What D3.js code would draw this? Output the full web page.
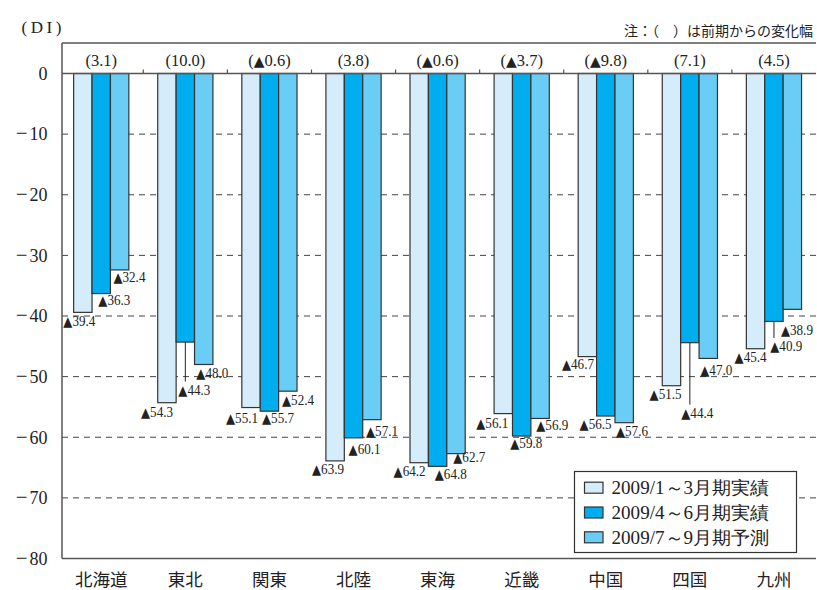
<!DOCTYPE html>
<html><head><meta charset="utf-8">
<script src="https://cdn.jsdelivr.net/npm/d3@7"></script>
<style>
html,body{margin:0;padding:0;background:#fff;}
svg{display:block;}
.serif{font-family:"Liberation Serif","Times New Roman","DejaVu Serif",serif;}
.cjk{font-family:"Noto Sans CJK JP","Noto Sans CJK SC",sans-serif;}
.tri{font-family:"DejaVu Sans",sans-serif;}
</style></head>
<body>
<svg id="chart" width="817" height="590"></svg>
<script>
// ---- data ----
const regions = ['北海道','東北','関東','北陸','東海','近畿','中国','四国','九州'];
const seriesNames = ['2009/1～3月期実績','2009/4～6月期実績','2009/7～9月期予測'];
const q1Actual = [-39.4,-54.3,-55.1,-63.9,-64.2,-56.1,-46.7,-51.5,-45.4];
const q2Actual = [-36.3,-44.3,-55.7,-60.1,-64.8,-59.8,-56.5,-44.4,-40.9];
const q3Forecast = [-32.4,-48.0,-52.4,-57.1,-62.7,-56.9,-57.6,-47.0,-38.9];
const changes = [3.1,10.0,-0.6,3.8,-0.6,-3.7,-9.8,7.1,4.5];
const yTicks = [0,-10,-20,-30,-40,-50,-60,-70,-80];

// ---- layout (label nudges, not data) ----
const labelDx = [
  [-10.3,-16.7,-15.8,-13.9,-16.4,-17.8,-16.2,-12.7,-11.8],
  [6.3,2.2,1.8,4.3,6.4,-2.2,-17,0.6,5.5],
  [3,1.8,3.4,3.3,6.5,5.4,1,1.2,-2.2]
];
const labelDy = [
  [8.7,9.1,10.3,7.5,8.1,9.2,7.5,7.7,8.1],
  [6.5,47.5,6.7,10.6,7,6.5,8.1,70,24.6],
  [6.9,8,9,11.5,3.5,6.5,8.5,11,20]
];
const leaderIdx = [1,7,8]; // dark-series labels with leader lines

const colors = ['#d5ecfa','#00aeef','#6acdf5'];
const series = [q1Actual, q2Actual, q3Forecast];

const svg = d3.select('#chart');
const x = d3.scaleBand().domain(regions).range([59.2, 816]).paddingInner(0).paddingOuter(0);
const y = d3.scaleLinear().domain([-80, 0]).range([558.5, 73.5]);
const barW = 18.4;
const groupOff = (x.bandwidth() - barW*3)/2;
const axisX = 62;

// gridlines
svg.append('g').selectAll('line').data(yTicks.filter(d => d < 0 && d > -80)).join('line')
  .attr('x1', axisX).attr('x2', 816)
  .attr('y1', d => y(d)).attr('y2', d => y(d))
  .attr('stroke', '#444').attr('stroke-width', 1).attr('stroke-dasharray', '6,5');

// bars
series.forEach((vals, si) => {
  svg.append('g').selectAll('rect').data(regions).join('rect')
    .attr('x', (r) => x(r) + groupOff + si*barW)
    .attr('y', y(0))
    .attr('width', barW)
    .attr('height', (r, i) => y(vals[i]) - y(0))
    .attr('fill', colors[si])
    .attr('stroke', '#333').attr('stroke-width', 1.2);
});

// frame lines
const frame = svg.append('g').attr('stroke', '#555').attr('stroke-width', 1.5);
frame.append('line').attr('x1', axisX).attr('x2', 816).attr('y1', 43).attr('y2', 43);
frame.append('line').attr('x1', axisX).attr('x2', 816).attr('y1', y(0)).attr('y2', y(0));
frame.append('line').attr('x1', axisX).attr('x2', 816).attr('y1', y(-80)).attr('y2', y(-80));
frame.append('line').attr('x1', axisX).attr('x2', axisX).attr('y1', 43).attr('y2', y(-80));
// small boundary ticks on zero line
svg.append('g').selectAll('line').data(regions.slice(1)).join('line')
  .attr('x1', r => x(r)).attr('x2', r => x(r))
  .attr('y1', y(0) - 4).attr('y2', y(0))
  .attr('stroke', '#555').attr('stroke-width', 1.2);

// y axis labels
const yl = svg.append('g').selectAll('text').data(yTicks).join('text')
  .attr('class', 'serif')
  .attr('x', 47.5).attr('y', d => y(d)).attr('dy', '0.35em')
  .attr('text-anchor', 'end').attr('font-size', 18).attr('fill', '#222');
yl.each(function(d){
  const t = d3.select(this);
  if (d < 0) {
    t.append('tspan').attr('font-size', 21).text('−');
    t.append('tspan').attr('dx', 2).text(String(-d));
  } else t.text('0');
});

// x axis labels
svg.append('g').selectAll('text').data(regions).join('text')
  .attr('class', 'cjk')
  .attr('x', r => x(r) + x.bandwidth()/2).attr('y', 580).attr('dy', '0.35em')
  .attr('text-anchor', 'middle').attr('font-size', 17.5).attr('fill', '#222')
  .text(r => r);

// change labels on top
const ch = svg.append('g').selectAll('text').data(regions).join('text')
  .attr('class', 'serif')
  .attr('x', r => x(r) + x.bandwidth()/2).attr('y', 60).attr('dy', '0.35em')
  .attr('text-anchor', 'middle').attr('font-size', 16.5).attr('fill', '#222');
ch.each(function(r, i){
  const t = d3.select(this);
  const v = changes[i];
  t.append('tspan').text('(');
  if (v < 0) t.append('tspan').attr('class', 'tri').attr('font-size', 14).text('▲');
  t.append('tspan').text(Math.abs(v).toFixed(1));
  t.append('tspan').text(')');
});

// value labels
series.forEach((vals, si) => {
  regions.forEach((r, i) => {
    const bx = x(r) + groupOff + si*barW;
    const cy = y(vals[i]) + labelDy[si][i];
    const tx = bx + labelDx[si][i];
    const t = svg.append('text')
      .attr('class', 'serif')
      .attr('x', tx).attr('y', cy).attr('dy', '0.35em')
      .attr('font-size', 15).attr('fill', '#222')
      .attr('textLength', 32).attr('lengthAdjust', 'spacingAndGlyphs');
    t.append('tspan').attr('class', 'tri').attr('font-size', 13.5).text('▲');
    t.append('tspan').text(Math.abs(vals[i]).toFixed(1));
    if (si === 1 && leaderIdx.includes(i)) {
      svg.append('line')
        .attr('x1', bx + barW/2).attr('x2', bx + barW/2)
        .attr('y1', y(vals[i])).attr('y2', cy - 8)
        .attr('stroke', '#222').attr('stroke-width', 1);
    }
  });
});

// axis title and note
svg.append('text').attr('class', 'serif').attr('x', 21.5).attr('y', 27).attr('dy', '0.35em')
  .attr('font-size', 17).attr('fill', '#222')
  .attr('textLength', 40).attr('lengthAdjust', 'spacing').text('(DI)');
svg.append('text').attr('class', 'cjk').attr('x', 813).attr('y', 31).attr('dy', '0.35em')
  .attr('text-anchor', 'end').attr('font-size', 14).attr('fill', '#222')
  .text('注：（　）は前期からの変化幅');

// legend
const lg = svg.append('g');
lg.append('rect').attr('x', 574.5).attr('y', 471.5).attr('width', 222).attr('height', 81)
  .attr('fill', '#fff').attr('stroke', '#333').attr('stroke-width', 1.2);
seriesNames.forEach((n, i) => {
  const cy = 487.7 + i*24.8;
  lg.append('rect').attr('x', 584.5).attr('y', cy - 5.5).attr('width', 18.5).attr('height', 11)
    .attr('fill', colors[i]).attr('stroke', '#333').attr('stroke-width', 1.2);
  lg.append('text').attr('class', 'serif').attr('x', 611.5).attr('y', cy).attr('dy', '0.35em')
    .attr('font-size', 18).attr('fill', '#222')
    .attr('textLength', 158).attr('lengthAdjust', 'spacingAndGlyphs').text(n);
});
</script>
</body></html>
